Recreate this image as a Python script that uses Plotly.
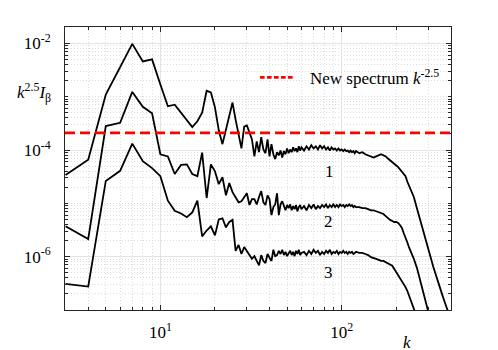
import math
import plotly.graph_objects as go

# wavenumber samples
k = [3, 4, 5, 6, 7, 8, 9, 10, 11, 12,
     13, 14, 15, 16, 17, 18, 19, 20, 21, 22,
     23, 24, 25, 26, 27, 28, 29, 30, 31, 32,
     33, 34, 35, 36, 37, 38, 39, 40, 41, 42,
     43, 44, 45, 46, 47, 48, 49, 50, 51, 52,
     53, 54, 55, 56, 57, 58, 59, 60,
     62, 64, 66, 68, 70, 72, 74, 76, 78, 80,
     82, 84, 86, 88, 90, 92, 94, 96, 98, 100,
     102, 104, 106, 108, 110, 112, 114, 116, 118, 120,
     125, 130, 135, 140, 145, 150, 155, 160, 165, 170,
     175, 180, 185, 190, 195, 200, 205, 210, 215, 220,
     225, 230, 235, 240, 245, 250,
     260, 270, 280, 290, 300, 310, 320, 330, 340, 350, 360, 370, 380, 390, 400]

# log10 of k^2.5 I_beta
log_I1 = [-4.47, -4.18, -2.96, -2.44, -2.01, -2.34, -2.30, -2.77, -3.18, -3.15,
          -3.30, -3.43, -3.57, -3.46, -3.30, -2.89, -2.92, -3.20, -3.63, -3.89,
          -3.61, -3.37, -3.11, -3.43, -3.74, -3.97, -3.56, -3.54, -3.67, -3.80,
          -4.12, -3.84, -4.04, -3.76, -3.99, -4.06, -3.80, -4.12, -3.89, -4.08,
          -4.17, -4.04, -4.10, -4.01, -4.14, -4.02, -4.08, -3.97, -4.06, -3.99,
          -4.04, -3.95, -4.02, -3.97, -4.04, -3.93, -4.01, -3.95,
          -4.01, -3.93, -3.99, -3.91, -3.97, -3.93, -3.99, -3.91, -3.97, -3.93,
          -3.99, -3.95, -4.01, -3.95, -3.99, -3.97, -4.01, -3.97, -4.01, -3.99,
          -4.02, -3.99, -4.02, -4.01, -4.04, -4.01, -4.04, -4.02, -4.06, -4.02,
          -4.06, -4.04, -4.08, -4.10, -4.12, -4.14, -4.12, -4.10, -4.08, -4.10,
          -4.12, -4.16, -4.19, -4.23, -4.25, -4.29, -4.32, -4.36, -4.40, -4.44,
          -4.49, -4.59, -4.66, -4.74, -4.81, -4.88,
          -5.09, -5.28, -5.48, -5.67, -5.86, -6.02, -6.19, -6.34, -6.49, -6.62,
          -6.73, -6.85, -6.96, -7.07, -7.18]

log_I2 = [-5.43, -5.67, -3.55, -3.49, -2.91, -3.19, -3.31, -4.08, -4.12, -4.45,
          -4.28, -4.27, -4.45, -4.49, -4.05, -4.90, -4.27, -4.40, -4.64, -4.51,
          -4.85, -4.62, -4.79, -4.88, -4.98, -4.96, -4.87, -4.81, -5.03, -4.92,
          -4.92, -5.02, -4.88, -4.77, -4.98, -5.03, -4.85, -4.92, -5.22, -5.07,
          -5.02, -4.81, -5.22, -5.02, -4.96, -5.07, -5.13, -5.03, -5.09, -5.02,
          -5.13, -5.05, -5.11, -5.03, -5.15, -5.07, -5.03, -5.11,
          -5.05, -5.13, -5.03, -5.09, -5.02, -5.11, -5.05, -5.09, -5.03, -5.07,
          -5.02, -5.09, -5.03, -5.07, -5.02, -5.07, -5.03, -5.07, -5.02, -5.05,
          -5.03, -5.07, -5.03, -5.05, -5.02, -5.05, -5.03, -5.07, -5.05, -5.07,
          -5.07, -5.09, -5.09, -5.11, -5.13, -5.13, -5.15, -5.17, -5.18, -5.20,
          -5.24, -5.28, -5.31, -5.33, -5.35, -5.35, -5.37, -5.41, -5.46, -5.56,
          -5.63, -5.73, -5.82, -5.89, -5.97, -6.04,
          -6.21, -6.42, -6.64, -6.85, -7.05, -7.24, -7.43, -7.60, -7.76, -7.91,
          -8.06, -8.21, -8.36, -8.51, -8.66]

log_I3 = [-6.51, -6.56, -4.58, -4.39, -3.88, -4.21, -4.34, -4.49, -4.95, -5.14,
          -5.19, -5.26, -5.17, -4.95, -5.62, -5.51, -5.43, -5.60, -5.30, -5.28,
          -5.45, -5.35, -5.31, -5.89, -5.78, -5.95, -5.82, -5.91, -5.97, -6.04,
          -5.99, -6.08, -6.16, -5.97, -6.08, -6.12, -5.95, -6.02, -6.08, -5.87,
          -5.99, -5.97, -5.89, -5.95, -5.87, -5.97, -5.91, -5.99, -5.93, -5.89,
          -5.97, -5.91, -5.99, -5.89, -5.95, -5.87, -5.97, -5.93,
          -5.91, -5.97, -5.89, -5.95, -5.87, -5.93, -5.89, -5.97, -5.91, -5.95,
          -5.89, -5.93, -5.87, -5.95, -5.91, -5.93, -5.89, -5.95, -5.91, -5.93,
          -5.89, -5.93, -5.91, -5.95, -5.91, -5.93, -5.91, -5.95, -5.93, -5.91,
          -5.93, -5.93, -5.95, -5.97, -6.01, -6.02, -6.04, -6.06, -6.08, -6.08,
          -6.10, -6.12, -6.14, -6.17, -6.23, -6.29, -6.34, -6.40, -6.45, -6.51,
          -6.57, -6.64, -6.72, -6.79, -6.87, -6.94,
          -7.09, -7.26, -7.43, -7.58, -7.73, -7.87, -8.02, -8.17, -8.32, -8.47,
          -8.62, -8.77, -8.92, -9.07, -9.22]

ref_level = 2.1e-4          # new spectrum k^-2.5 (flat after compensation)
curve_names = ["1", "2", "3"]
curve_label_k = [86, 85, 85]
curve_label_val = [4.0e-5, 4.5e-6, 5.0e-7]

x_major = [10, 100]
x_major_text = ["10<sup>1</sup>", "10<sup>2</sup>"]
y_major = [1e-6, 1e-4, 1e-2]
y_major_text = ["10<sup>-6</sup>", "10<sup>-4</sup>", "10<sup>-2</sup>"]

FONT = "Liberation Serif"
AX = "#262626"

x_minor = [m * 10 ** e for e in range(0, 3) for m in range(1, 10)
           if m * 10 ** e not in x_major and m * 10 ** e >= 3]
y_minor = [m * 10.0 ** e for e in range(-7, -1) for m in range(1, 10)
           if not any(abs(m * 10.0 ** e - v) < 1e-12 for v in y_major)]

fig = go.Figure()
for vals in (log_I1, log_I2, log_I3):
    fig.add_trace(go.Scatter(x=k, y=[10 ** v for v in vals], mode="lines",
                             line=dict(color="black", width=1.8),
                             showlegend=False, hoverinfo="skip"))

fig.add_hline(y=ref_level, line=dict(color="#ff0000", width=2.6, dash="10px,5px"))

# legend drawn by hand (short dashed sample + text), matlab style
fig.add_shape(type="line", xref="paper", yref="paper", x0=0.505, x1=0.591, y0=0.822, y1=0.822,
              line=dict(color="#ff0000", width=2.6, dash="4.7px,2.3px"))
fig.add_annotation(xref="paper", yref="paper", x=0.63, y=0.823, xanchor="left", yanchor="middle",
                   text="New spectrum <i>k</i><sup>-2.5</sup>", showarrow=False,
                   font=dict(family=FONT, size=17, color="black"))

for name, kx, v in zip(curve_names, curve_label_k, curve_label_val):
    fig.add_annotation(x=math.log10(kx), y=math.log10(v), text=name, showarrow=False,
                       font=dict(family=FONT, size=17, color="black"))

fig.add_annotation(xref="paper", yref="paper", x=-0.13, y=0.77, xanchor="left", yanchor="middle",
                   showarrow=False, text="<i>k</i><sup>2.5</sup><i>I</i><sub>&#946;</sub>",
                   font=dict(family=FONT, size=17, color="black"))
fig.add_annotation(xref="paper", yref="paper", x=0.886, y=-0.074, xanchor="center", yanchor="top",
                   showarrow=False, text="<i>k</i>", font=dict(family=FONT, size=17, color="black"))

axis_common = dict(type="log", showline=True, linecolor=AX, linewidth=1, mirror="ticks",
                   ticks="inside", ticklen=5, tickcolor=AX, zeroline=False, automargin=False,
                   showgrid=True, gridcolor="#e3e3e3", gridwidth=1,
                   tickfont=dict(family=FONT, size=17, color="black"))

fig.update_xaxes(range=[0.474, 2.603], tickmode="array", tickvals=x_major, ticktext=x_major_text,
                 ticklabelstandoff=7,
                 minor=dict(tickmode="array", tickvals=x_minor, ticks="inside", ticklen=3,
                            tickcolor=AX, showgrid=True, gridcolor="#dedede", griddash="1px,2px",
                            gridwidth=1),
                 **axis_common)
fig.update_yaxes(range=[-7.0, -1.693], tickmode="array", tickvals=y_major, ticktext=y_major_text,
                 ticklabelstandoff=10,
                 minor=dict(tickmode="array", tickvals=y_minor, ticks="inside", ticklen=3,
                            tickcolor=AX, showgrid=True, gridcolor="#dedede", griddash="1px,2px",
                            gridwidth=1),
                 **axis_common)

# page body keeps its default 8px margin, so pull the figure margins in by that much
fig.update_layout(width=498, height=350, margin=dict(l=57, r=55, t=19, b=48),
                  paper_bgcolor="white", plot_bgcolor="white",
                  font=dict(family=FONT, size=17, color="black"), showlegend=False)

fig.write_html("out.html")
